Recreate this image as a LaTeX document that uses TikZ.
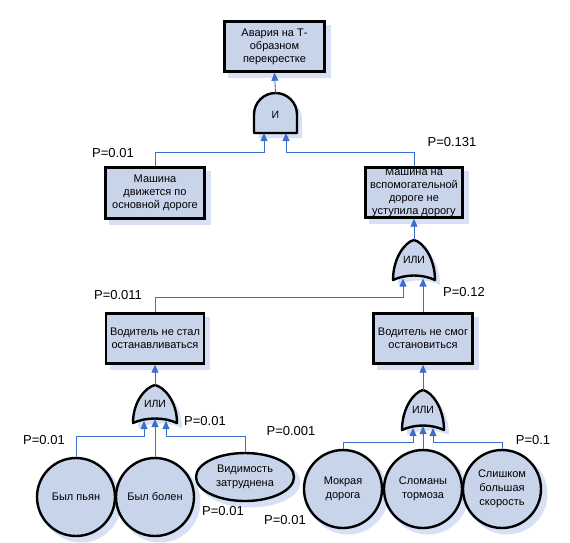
\documentclass[tikz,border=0pt]{standalone}
\usepackage{fontspec}
\setmainfont{Liberation Sans}
\usetikzlibrary{shapes.geometric,arrows.meta,backgrounds}
\definecolor{gatefill}{RGB}{200,212,234}
\definecolor{shadowblue}{RGB}{216,224,246}
\definecolor{lineblue}{RGB}{60,110,205}
\tikzset{
  shadowfill/.style={fill=shadowblue},
  evbox/.style={draw=black,line width=2.4pt,fill=gatefill,align=center,inner sep=0pt,
    font=\fontsize{11}{13}\selectfont},
  basic/.style={draw=black,line width=2.4pt,fill=gatefill,circle,minimum size=78pt,inner sep=0pt,
    align=center,font=\fontsize{11}{14}\selectfont},
  oval/.style={draw=black,line width=2.4pt,fill=gatefill,ellipse,minimum width=98pt,minimum height=48pt,inner sep=0pt,
    align=center,font=\fontsize{11}{14}\selectfont},
  gate/.style={draw=black,line width=2.4pt,fill=gatefill,line join=round},
  gtext/.style={font=\fontsize{10.5}{12}\selectfont,inner sep=0pt},
  plabel/.style={font=\fontsize{13}{14}\selectfont,inner sep=0pt},
  conn/.style={draw=lineblue,line width=0.9pt,-{Triangle[width=7pt,length=8pt]}},
}
\begin{document}
\begin{tikzpicture}[x=1pt,y=-1pt]
\useasboundingbox (0,0) rectangle (570,542);
% boxes
\node[evbox,minimum width=100pt,minimum height=50pt] (b1) at (274.5,46.5) {Авария на Т-\\образном\\перекрестке};
\node[evbox,minimum width=99pt,minimum height=51pt] (b2) at (155,193) {Машина\\движется по\\основной дороге};
\node[evbox,minimum width=97pt,minimum height=50pt] (b3) at (414,192.5) {Машина на\\вспомогательной\\дороге не\\уступила дорогу};
\node[evbox,minimum width=98pt,minimum height=50pt] (b4) at (155,338.5) {Водитель не стал\\останавливаться};
\node[evbox,minimum width=99pt,minimum height=50pt] (b5) at (423,338.5) {Водитель не смог\\остановиться};
% basic events
\node[basic] (c1) at (76,497) {Был пьян};
\node[basic] (c2) at (155,497) {Был болен};
\node[oval] (e3) at (245,477) {Видимость\\затруднена};
\node[basic] (c4) at (343,489) {Мокрая\\дорога};
\node[basic] (c5) at (423,489) {Сломаны\\тормоза};
\node[basic] (c6) at (502,489) {Слишком\\большая\\скорость};
% shadows
\begin{scope}[on background layer]
\foreach \b in {b1,b2,b3,b4,b5}
  \fill[shadowfill] ([shift={(5,5)}]\b.south west) rectangle ([shift={(5,5)}]\b.north east);
\foreach \c in {c1,c2,c4,c5,c6}
  \fill[shadowfill] ([shift={(5,5)}]\c.center) circle[radius=40.5];
\fill[shadowfill] ([shift={(5,5)}]e3.center) circle[x radius=50.5,y radius=25.5];
\begin{scope}[shift={(5,5)}]
\fill[shadowfill] (254,133) -- (254,114.5) arc[start angle=180,end angle=360,radius=21.5] -- (297,133) -- cycle;
\fill[shadowfill] (393,280) .. controls (393,258) and (405,242) .. (414,240) .. controls (423,242) and (435,258) .. (435,280) .. controls (422,274) and (406,274) .. cycle;
\fill[shadowfill] (133,423) .. controls (133,401) and (146,387) .. (155,385) .. controls (164,387) and (177,401) .. (177,423) .. controls (164,417) and (146,417) .. cycle;
\fill[shadowfill] (402,430) .. controls (402,408) and (414,392) .. (423,390) .. controls (432,392) and (444,408) .. (444,430) .. controls (431,424) and (415,424) .. cycle;
\end{scope}
\end{scope}
% AND gate
\path[gate] (254,133) -- (254,114.5) arc[start angle=180,end angle=360,radius=21.5] -- (297,133) -- cycle;
\node[gtext] (g1) at (275.5,115) {И};
\coordinate (g1out) at (275.5,93);
\coordinate (g1in1) at (264,133);
\coordinate (g1in2) at (286,133);
% OR gate top right
\path[gate] (393,280) .. controls (393,258) and (405,242) .. (414,240) .. controls (423,242) and (435,258) .. (435,280) .. controls (422,274) and (406,274) .. cycle;
\node[gtext] (g2) at (414,260) {ИЛИ};
\coordinate (g2out) at (414,240);
\coordinate (g2in1) at (403,278.5);
\coordinate (g2in2) at (423,278.5);
% OR gate left
\path[gate] (133,423) .. controls (133,401) and (146,387) .. (155,385) .. controls (164,387) and (177,401) .. (177,423) .. controls (164,417) and (146,417) .. cycle;
\node[gtext] (g3) at (155,404) {ИЛИ};
\coordinate (g3out) at (155,385);
\coordinate (g3in1) at (144,421);
\coordinate (g3in2) at (155,419);
\coordinate (g3in3) at (166,421);
% OR gate right
\path[gate] (402,430) .. controls (402,408) and (414,392) .. (423,390) .. controls (432,392) and (444,408) .. (444,430) .. controls (431,424) and (415,424) .. cycle;
\node[gtext] (g4) at (423,410) {ИЛИ};
\coordinate (g4out) at (423,390);
\coordinate (g4in1) at (413,428);
\coordinate (g4in2) at (423,426);
\coordinate (g4in3) at (433,428);
% buses
\coordinate (bus1) at (0,152);
\coordinate (bus2) at (0,297);
\coordinate (bus3) at (0,436);
\coordinate (bus4) at (0,442);
% connectors
\draw[conn] (g1out) -- (b1.south);
\draw[conn] (b2.north) -- (b2.north |- bus1) -| (g1in1);
\draw[conn] (b3.north) -- (b3.north |- bus1) -| (g1in2);
\draw[conn] (g2out) -- (b3.south);
\draw[conn] (b4.north) -- (b4.north |- bus2) -| (g2in1);
\draw[conn] (b5.north) -- (g2in2);
\draw[conn] (g3out) -- (b4.south);
\draw[conn] (g4out) -- (b5.south);
\draw[conn] (c1.north) -- (c1.north |- bus3) -| (g3in1);
\draw[conn] (c2.north) -- (g3in2);
\draw[conn] (e3.north) -- (e3.north |- bus3) -| (g3in3);
\draw[conn] (c4.north) -- (c4.north |- bus4) -| (g4in1);
\draw[conn] (c5.north) -- (g4in2);
\draw[conn] (c6.north) -- (c6.north |- bus4) -| (g4in3);
% probability labels
\node[plabel] (p1) at (113,153) {P=0.01};
\node[plabel] (p2) at (452,142) {P=0.131};
\node[plabel] (p3) at (118,295) {P=0.011};
\node[plabel] (p4) at (464,292) {P=0.12};
\node[plabel] (p5) at (205,421) {P=0.01};
\node[plabel] (p6) at (44,440) {P=0.01};
\node[plabel] (p7) at (223,511) {P=0.01};
\node[plabel] (p8) at (285,520) {P=0.01};
\node[plabel] (p9) at (291,431) {P=0.001};
\node[plabel] (p10) at (533,440) {P=0.1};
\end{tikzpicture}
\end{document}
